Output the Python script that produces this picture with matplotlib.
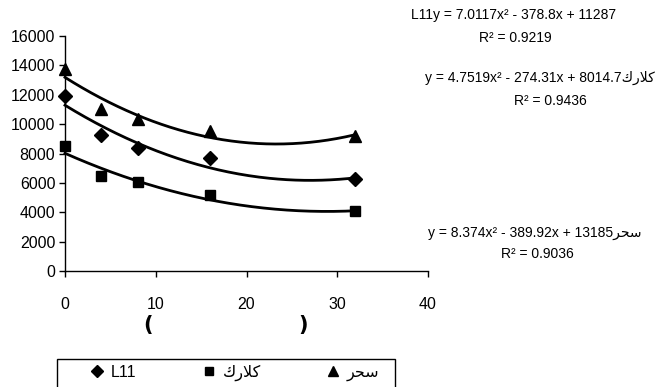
import numpy as np
import matplotlib
matplotlib.use("Agg")
import matplotlib.pyplot as plt
from matplotlib.patches import Rectangle

plt.rcParams['font.family'] = ['Liberation Sans', 'DejaVu Sans']

# Arabic names in presentation forms (visual order) so they render joined
name_l11 = "L11"
name_clark = "\uFED9\uFEAD\uFEFC\uFEDB"   # کلارک
name_sahar = "\uFEAE\uFEA4\uFEB3"         # سحر

x_vals = [0, 4, 8, 16, 32]
l11_vals = [11900, 9250, 8350, 7700, 6250]
clark_vals = [8500, 6450, 6050, 5150, 4100]
sahar_vals = [13750, 11000, 10350, 9550, 9200]

# trendline coefficients (as printed on the chart)
l11_coef = [7.0117, -378.8, 11287]
clark_coef = [4.7519, -274.31, 8014.7]
sahar_coef = [8.374, -389.92, 13185]

l11_eq = "L11y = 7.0117x\u00b2 - 378.8x + 11287"
l11_r2 = "R\u00b2 = 0.9219"
clark_eq = "y = 4.7519x\u00b2 - 274.31x + 8014.7" + name_clark
clark_r2 = "R\u00b2 = 0.9436"
sahar_eq = "y = 8.374x\u00b2 - 389.92x + 13185" + name_sahar
sahar_r2 = "R\u00b2 = 0.9036"

x_ticks = [0, 10, 20, 30, 40]
y_ticks = [0, 2000, 4000, 6000, 8000, 10000, 12000, 14000, 16000]

W, H = 669, 387
fig = plt.figure(figsize=(W / 100, H / 100), dpi=100)
ax = fig.add_axes([65 / W, 1 - 271 / H, (428 - 65) / W, (271 - 36) / H])

xs = np.linspace(min(x_vals), max(x_vals), 200)
for coef in (l11_coef, clark_coef, sahar_coef):
    ax.plot(xs, np.polyval(coef, xs), color='black', lw=2, clip_on=False, zorder=2)

h1, = ax.plot(x_vals, l11_vals, 'D', color='black', ms=7, ls='none', clip_on=False, zorder=3, label=name_l11)
h2, = ax.plot(x_vals, clark_vals, 's', color='black', ms=7.5, ls='none', clip_on=False, zorder=3, label=name_clark)
h3, = ax.plot(x_vals, sahar_vals, '^', color='black', ms=9, ls='none', clip_on=False, zorder=3, label=name_sahar)

ax.set_xlim(0, 40)
ax.set_ylim(0, 16000)
ax.set_xticks(x_ticks)
ax.set_yticks(y_ticks)
for s in ('top', 'right'):
    ax.spines[s].set_visible(False)
for s in ('left', 'bottom'):
    ax.spines[s].set_linewidth(1)
ax.tick_params(axis='both', direction='out', length=4, width=1, labelsize=11.5)
ax.tick_params(axis='x', pad=15)
ax.tick_params(axis='y', pad=3)

def ftext(px, py, s, **kw):
    fig.text(px / W, 1 - py / H, s, ha='center', va='center', **kw)

eq_fs = 10
ftext(514, 15, l11_eq, fontsize=eq_fs)
ftext(515, 38, l11_r2, fontsize=eq_fs)
ftext(540, 78, clark_eq, fontsize=eq_fs)
ftext(550, 101, clark_r2, fontsize=eq_fs)
ftext(535, 233, sahar_eq, fontsize=eq_fs)
ftext(537, 254, sahar_r2, fontsize=eq_fs)

ftext(148, 325, "(", fontsize=15, fontweight='bold', family='DejaVu Sans')
ftext(303, 325, ")", fontsize=15, fontweight='bold', family='DejaVu Sans')

frame = Rectangle((57 / W, -0.05), (395 - 57) / W, 1 - 359 / H + 0.05,
                  transform=fig.transFigure, fill=False,
                  edgecolor='black', lw=1, clip_on=False)
fig.patches.append(frame)

leg = fig.legend(handles=[h1, h2, h3], loc='center left',
                 bbox_to_anchor=(90 / W, 1 - 373 / H), ncol=3, frameon=False,
                 fontsize=11.5, handlelength=0.9, handletextpad=0.4,
                 columnspacing=4.1, borderpad=0, borderaxespad=0,
                 markerscale=0.85)

fig.savefig("out.png", dpi=100)
